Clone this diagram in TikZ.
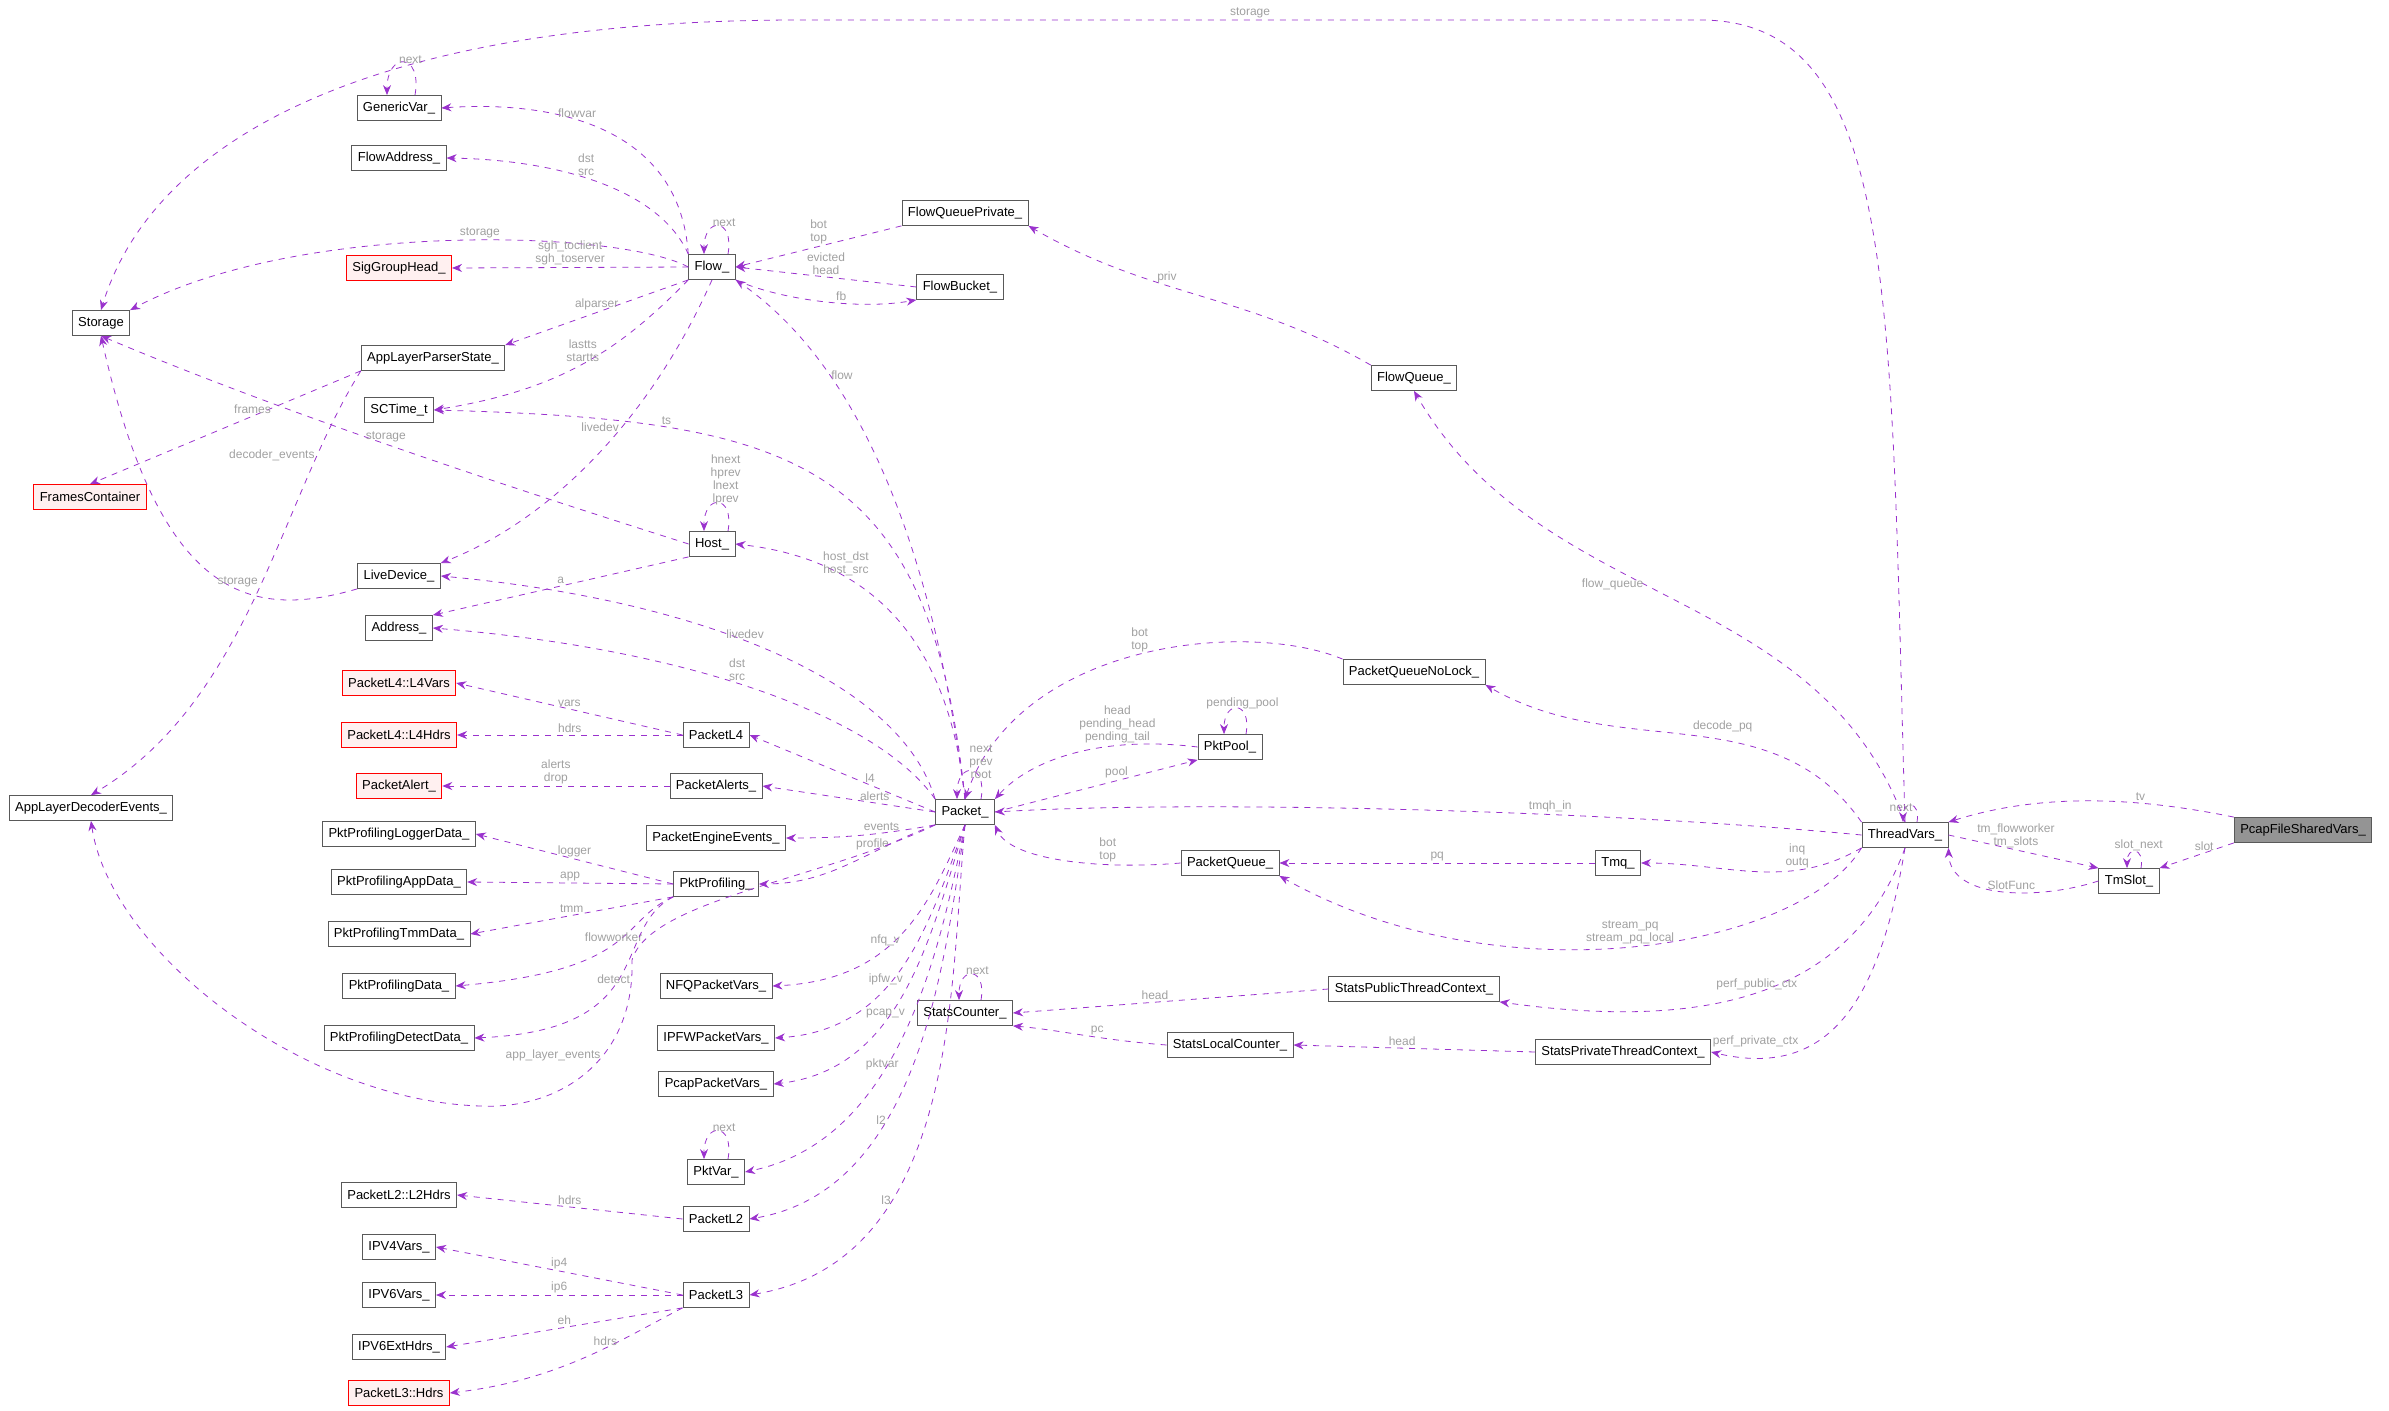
\documentclass[tikz,border=0pt]{standalone}
\usepackage{fontspec}
\setmainfont{Liberation Sans}
\usetikzlibrary{arrows.meta, calc}
\definecolor{edgec}{HTML}{9A32CD}
\definecolor{lblc}{HTML}{A0A0A0}
\tikzset{
  cls/.style = {rectangle, draw=black!65, fill=white, font=\fontsize{6.5}{7}\selectfont, minimum height=12.5pt, inner xsep=3pt, inner ysep=1pt},
  redcls/.style = {cls, draw=red, fill=red!6},
  maincls/.style = {cls, fill=black!42},
  edge/.style = {draw=edgec, dashed, thin, -{Stealth[length=5pt,width=4pt]}},
  lbl/.style = {text=lblc, font=\fontsize{6}{6.5}\selectfont, align=center, inner sep=1pt},
}
\begin{document}
\begin{tikzpicture}[x=0.5pt, y=-0.5pt]
\useasboundingbox (0,0) rectangle (2389,1411);
% left column
\node (storage) [cls] at (101,323) {Storage};
\node (framescont) [redcls] at (90,497) {FramesContainer};
\node (appdecev) [cls] at (91,808) {AppLayerDecoderEvents\_};
% second column
\node (genericvar) [cls] at (399,108) {GenericVar\_};
\node (flowaddr) [cls] at (399,158) {FlowAddress\_};
\node (siggroup) [redcls] at (399,268) {SigGroupHead\_};
\node (appparser) [cls] at (433,358) {AppLayerParserState\_};
\node (sctime) [cls] at (399,410) {SCTime\_t};
\node (livedev) [cls] at (399,576) {LiveDevice\_};
\node (address) [cls] at (399,628) {Address\_};
\node (l4vars) [redcls] at (399,683) {PacketL4::L4Vars};
\node (l4hdrs) [redcls] at (399,735) {PacketL4::L4Hdrs};
\node (pktalert) [redcls] at (399,786) {PacketAlert\_};
\node (profloggr) [cls] at (399,834) {PktProfilingLoggerData\_};
\node (profapp) [cls] at (399,882) {PktProfilingAppData\_};
\node (proftmm) [cls] at (399,934) {PktProfilingTmmData\_};
\node (profdata) [cls] at (399,986) {PktProfilingData\_};
\node (profdetect) [cls] at (399,1038) {PktProfilingDetectData\_};
\node (l2hdrs) [cls] at (399,1195) {PacketL2::L2Hdrs};
\node (ipv4) [cls] at (399,1247) {IPV4Vars\_};
\node (ipv6) [cls] at (399,1295) {IPV6Vars\_};
\node (ipv6ext) [cls] at (399,1347) {IPV6ExtHdrs\_};
\node (l3hdrs) [redcls] at (399,1393) {PacketL3::Hdrs};
% third column
\node (flow) [cls] at (712,267) {Flow\_};
\node (host) [cls] at (712,544) {Host\_};
\node (pktl4) [cls] at (716,735) {PacketL4};
\node (pktalerts) [cls] at (716,786) {PacketAlerts\_};
\node (engev) [cls] at (716,838) {PacketEngineEvents\_};
\node (pktprof) [cls] at (716,884) {PktProfiling\_};
\node (nfq) [cls] at (716,986) {NFQPacketVars\_};
\node (ipfw) [cls] at (716,1038) {IPFWPacketVars\_};
\node (pcapvars) [cls] at (716,1084) {PcapPacketVars\_};
\node (pktvar) [cls] at (716,1172) {PktVar\_};
\node (pktl2) [cls] at (716,1219) {PacketL2};
\node (pktl3) [cls] at (716,1295) {PacketL3};
% fourth column
\node (packet) [cls] at (965,812) {Packet\_};
\node (fqpriv) [cls] at (965,213) {FlowQueuePrivate\_};
\node (flowbucket) [cls] at (960,287) {FlowBucket\_};
\node (statscnt) [cls] at (965,1013) {StatsCounter\_};
% fifth column
\node (pktpool) [cls] at (1230,747) {PktPool\_};
\node (pktqueue) [cls] at (1230,863) {PacketQueue\_};
\node (statslocal) [cls] at (1230,1045) {StatsLocalCounter\_};
\node (flowqueue) [cls] at (1414,378) {FlowQueue\_};
\node (pqnolock) [cls] at (1414,672) {PacketQueueNoLock\_};
\node (statspub) [cls] at (1414,989) {StatsPublicThreadContext\_};
\node (tmq) [cls] at (1618,863) {Tmq\_};
\node (statspriv) [cls] at (1623,1052) {StatsPrivateThreadContext\_};
% right part
\node (threadvars) [cls] at (1905,835) {ThreadVars\_};
\node (tmslot) [cls] at (2129,881) {TmSlot\_};
\node (pcapshared) [maincls] at (2303,830) {PcapFileSharedVars\_};

% ThreadVars_ members
\draw [edge] (threadvars.north) .. controls (1890,300) and (1900,20) .. (1700,20) -- node[lbl, above] {storage} (800,20) .. controls (350,20) and (150,150) .. (storage.north);
\draw [edge] ([xshift=6pt]threadvars.north) to[out=80,in=90,looseness=4] node[lbl, pos=0.35, left] {next} ([xshift=-1pt]threadvars.north);
\draw [edge] (threadvars.west) .. controls (1600,810) and (1200,800) .. node[lbl, pos=0.35, above] {tmqh\_in} (packet.east);
\draw [edge] (threadvars.north) to[out=110,in=-60] node[lbl, pos=0.55, left] {flow\_queue} (flowqueue.south);
\draw [edge] (threadvars.north west) to[out=125,in=-30] node[lbl, pos=0.5, above right] {decode\_pq} (pqnolock.south east);
\draw [edge] (threadvars.south west) to[out=210,in=0] node[lbl, pos=0.3, above] {inq\\outq} (tmq.east);
\draw [edge] (threadvars.south west) .. controls (1800,950) and (1500,1000) .. node[lbl, pos=0.5, above] {stream\_pq\\stream\_pq\_local} (pktqueue.south east);
\draw [edge] (threadvars.south) .. controls (1850,1000) and (1700,1030) .. node[lbl, pos=0.5, above] {perf\_public\_ctx} (statspub.south east);
\draw [edge] (threadvars.south) .. controls (1880,1000) and (1830,1080) .. node[lbl, pos=0.7, above left] {perf\_private\_ctx} (statspriv.east);
\draw [edge] (threadvars.east) to node[lbl, pos=0.45, above] {tm\_flowworker\\tm\_slots} (tmslot.north west);
\draw [edge] (tmslot.west) .. controls (2040,900) and (1950,900) .. node[lbl, pos=0.45, above] {SlotFunc} (threadvars.south east);
\draw [edge] ([xshift=6pt]tmslot.north) to[out=80,in=90,looseness=4] node[lbl, pos=0.35, above] {slot\_next} ([xshift=-1pt]tmslot.north);
\draw [edge] (pcapshared.north west) .. controls (2150,800) and (2050,790) .. node[lbl, pos=0.35, above] {tv} (threadvars.north east);
\draw [edge] (pcapshared.south west) to node[lbl, pos=0.4, above] {slot} (tmslot.north east);

% queues and stats
\draw [edge] (flowqueue.north west) to[out=150,in=-30] node[lbl, pos=0.6, above] {priv} (fqpriv.south east);
\draw [edge] (tmq.west) -- node[lbl, above] {pq} (pktqueue.east);
\draw [edge] (pktqueue.west) .. controls (1100,870) and (1010,860) .. node[lbl, pos=0.3, above] {bot\\top} (packet.south east);
\draw [edge] (pqnolock.north west) .. controls (1250,620) and (1020,640) .. node[lbl, pos=0.5, above] {bot\\top} (packet.north);
\draw [edge] (pktpool.west) .. controls (1100,735) and (1030,760) .. node[lbl, pos=0.3, above] {head\\pending\_head\\pending\_tail} (packet.north east);
\draw [edge] (packet.east) to node[lbl, pos=0.6, above] {pool} (pktpool.south west);
\draw [edge] ([xshift=8pt]pktpool.north) to[out=80,in=90,looseness=4] node[lbl, pos=0.35, above] {pending\_pool} ([xshift=-3pt]pktpool.north);
\draw [edge] ([xshift=8pt]statscnt.north) to[out=80,in=90,looseness=4] node[lbl, pos=0.35, above] {next} ([xshift=-3pt]statscnt.north);
\draw [edge] (statspub.west) -- node[lbl, pos=0.55, above] {head} (statscnt.east);
\draw [edge] (statslocal.west) .. controls (1100,1040) and (1060,1030) .. node[lbl, pos=0.4, above] {pc} (statscnt.south east);
\draw [edge] (statspriv.west) -- node[lbl, pos=0.55, above] {head} (statslocal.east);

% Flow_ members
\draw [edge] ([xshift=8pt]genericvar.north) to[out=80,in=90,looseness=4] node[lbl, pos=0.35, above] {next} ([xshift=-6pt]genericvar.north);
\draw [edge] (flow.north west) .. controls (680,130) and (560,100) .. node[lbl, pos=0.6, above] {flowvar} (genericvar.east);
\draw [edge] (flow.north west) .. controls (660,190) and (560,160) .. node[lbl, pos=0.55, above] {dst\\src} (flowaddr.east);
\draw [edge] ([xshift=8pt]flow.north) to[out=80,in=90,looseness=4] node[lbl, pos=0.35, above] {next} ([xshift=-4pt]flow.north);
\draw [edge] (flow.west) .. controls (620,230) and (300,220) .. node[lbl, pos=0.45, above] {storage} (storage.north east);
\draw [edge] (flow.west) -- node[lbl, pos=0.5, above] {sgh\_toclient\\sgh\_toserver} (siggroup.east);
\draw [edge] (flow.south west) -- node[lbl, pos=0.5, above] {alparser} (appparser.north east);
\draw [edge] (flow.south west) .. controls (620,350) and (560,390) .. node[lbl, pos=0.5, above] {lastts\\startts} (sctime.east);
\draw [edge] (flow.south) .. controls (650,420) and (550,520) .. node[lbl, pos=0.4, left] {livedev} (livedev.north east);
\draw [edge] (flow.south east) .. controls (780,300) and (860,310) .. node[lbl, pos=0.6, above] {fb} (flowbucket.south west);
\draw [edge] (fqpriv.south west) -- node[lbl, pos=0.5, above] {bot\\top} (flow.east);
\draw [edge] (flowbucket.west) -- node[lbl, pos=0.5, above] {evicted\\head} (flow.east);
\draw [edge] (packet.north) .. controls (940,600) and (880,380) .. node[lbl, pos=0.75, right] {flow} (flow.south east);
\draw [edge] (appparser.south west) -- node[lbl, pos=0.4, above] {frames} (framescont.north);
\draw [edge] (appparser.south west) .. controls (280,500) and (250,700) .. node[lbl, pos=0.2, left] {decoder\_events} (appdecev.north);

% Host_ and LiveDevice_
\draw [edge] ([xshift=8pt]host.north) to[out=80,in=90,looseness=4] node[lbl, pos=0.3, above] {hnext\\hprev\\lnext\\lprev} ([xshift=-4pt]host.north);
\draw [edge] (host.west) .. controls (550,500) and (300,420) .. node[lbl, pos=0.55, above] {storage} (storage.south);
\draw [edge] (host.south west) -- node[lbl, pos=0.5, above] {a} (address.north east);
\draw [edge] (livedev.south west) .. controls (250,620) and (160,600) .. node[lbl, pos=0.4, above] {storage} (storage.south);
\draw [edge] (packet.north) .. controls (950,650) and (880,560) .. node[lbl, pos=0.7, above] {host\_dst\\host\_src} (host.east);
\draw [edge] (packet.north) .. controls (930,460) and (800,420) .. node[lbl, pos=0.75, above] {ts} (sctime.east);
\draw [edge] (packet.north west) .. controls (900,680) and (700,600) .. node[lbl, pos=0.55, above] {livedev} (livedev.east);
\draw [edge] (packet.north west) .. controls (880,720) and (700,650) .. node[lbl, pos=0.55, above] {dst\\src} (address.east);

% Packet_ members
\draw [edge] ([xshift=8pt]packet.north) to[out=80,in=90,looseness=4] node[lbl, pos=0.2, above] {next\\prev\\root} ([xshift=-4pt]packet.north);
\draw [edge] (packet.west) -- node[lbl, pos=0.35, above] {l4} (pktl4.east);
\draw [edge] (packet.west) -- node[lbl, pos=0.35, above] {alerts} (pktalerts.east);
\draw [edge] (packet.south west) to[out=190,in=0] node[lbl, pos=0.35, above] {events} (engev.east);
\draw [edge] (packet.south west) to[out=200,in=0] node[lbl, pos=0.35, above] {profile} (pktprof.east);
\draw [edge] (packet.south west) .. controls (820,880) and (650,900) .. (632,960) .. controls (635,1060) and (560,1110) .. node[lbl, pos=0.4, left] {app\_layer\_events} (480,1106) .. controls (300,1100) and (110,950) .. (appdecev.south);
\draw [edge] (pktl4.west) -- node[lbl, pos=0.5, above] {vars} (l4vars.east);
\draw [edge] (pktl4.west) -- node[lbl, pos=0.5, above] {hdrs} (l4hdrs.east);
\draw [edge] (pktalerts.west) -- node[lbl, pos=0.5, above] {alerts\\drop} (pktalert.east);
\draw [edge] (pktprof.west) -- node[lbl, pos=0.5, above] {logger} (profloggr.east);
\draw [edge] (pktprof.west) -- node[lbl, pos=0.5, above] {app} (profapp.east);
\draw [edge] (pktprof.south west) -- node[lbl, pos=0.5, above] {tmm} (proftmm.east);
\draw [edge] (pktprof.south west) .. controls (620,920) and (640,970) .. node[lbl, pos=0.5, above] {flowworker} (profdata.east);
\draw [edge] (pktprof.south west) .. controls (610,930) and (660,1030) .. node[lbl, pos=0.55, above] {detect} (profdetect.east);
\draw [edge] (packet.south) .. controls (930,900) and (900,980) .. node[lbl, pos=0.6, above] {nfq\_v} (nfq.east);
\draw [edge] (packet.south) .. controls (930,920) and (900,1030) .. node[lbl, pos=0.6, above] {ipfw\_v} (ipfw.east);
\draw [edge] (packet.south) .. controls (930,940) and (900,1070) .. node[lbl, pos=0.6, above] {pcap\_v} (pcapvars.east);
\draw [edge] (packet.south) .. controls (940,950) and (900,1140) .. node[lbl, pos=0.6, above] {pktvar} (pktvar.east);
\draw [edge] ([xshift=6pt]pktvar.north) to[out=80,in=90,looseness=4] node[lbl, pos=0.35, above] {next} ([xshift=-6pt]pktvar.north);
\draw [edge] (packet.south) .. controls (945,960) and (920,1190) .. node[lbl, pos=0.65, above] {l2} (pktl2.east);
\draw [edge] (packet.south) .. controls (950,980) and (960,1260) .. node[lbl, pos=0.7, above] {l3} (pktl3.east);
\draw [edge] (pktl2.west) -- node[lbl, pos=0.5, above] {hdrs} (l2hdrs.east);
\draw [edge] (pktl3.west) -- node[lbl, pos=0.5, above] {ip4} (ipv4.east);
\draw [edge] (pktl3.west) -- node[lbl, pos=0.5, above] {ip6} (ipv6.east);
\draw [edge] (pktl3.south west) -- node[lbl, pos=0.5, above] {eh} (ipv6ext.east);
\draw [edge] (pktl3.south west) .. controls (620,1340) and (560,1380) .. node[lbl, pos=0.4, above] {hdrs} (l3hdrs.east);
\end{tikzpicture}
\end{document}
